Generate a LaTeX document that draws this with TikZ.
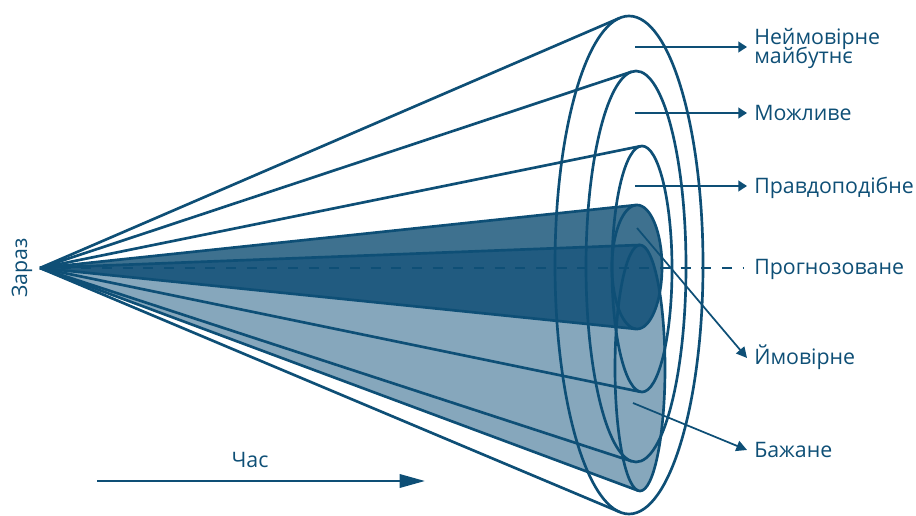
\documentclass[tikz,border=0pt]{standalone}
\usepackage{fontspec}
\setmainfont{Open Sans}
\usetikzlibrary{arrows.meta}
\definecolor{ln}{HTML}{0E4F76}
\definecolor{lite}{HTML}{86A7BC}
\definecolor{mid}{HTML}{3E718F}
\definecolor{dark}{HTML}{215B80}
% apex fixed at (40,268)
\newcommand\setcone[4]{%
  \pgfmathsetmacro\cpx{(40-#1)/#3}%
  \pgfmathsetmacro\cpy{(268-#2)/#4}%
  \pgfmathsetmacro\cdd{sqrt(\cpx*\cpx+\cpy*\cpy)}%
  \pgfmathsetmacro\cphi{atan2(\cpy,\cpx)}%
  \pgfmathsetmacro\cal{acos(1/\cdd)}%
  \pgfmathsetmacro\cA{\cphi+\cal}%
  \pgfmathsetmacro\cB{\cphi-\cal+360}%
}
% #1 command, #2 options, #3 cx, #4 cy, #5 rx, #6 ry
\newcommand\conecmd[6]{%
  \setcone{#3}{#4}{#5}{#6}%
  #1[#2] (apex) -- plot[domain=\cA:\cB,samples=90] ({#3+#5*cos(\x)},{#4+#6*sin(\x)}) -- cycle;}
% outline: #1 cx, #2 cy, #3 rx, #4 ry, #5 name
\newcommand\coneline[5]{%
  \setcone{#1}{#2}{#3}{#4}%
  \coordinate (#5-c) at (#1,#2);
  \coordinate (#5-a) at ({#1+#3*cos(\cA)},{#2+#4*sin(\cA)});
  \coordinate (#5-b) at ({#1+#3*cos(\cB)},{#2+#4*sin(\cB)});
  \draw[cl] (apex) -- (#5-a);
  \draw[cl] (apex) -- (#5-b);
  \draw[cl] (#5-c) ellipse [x radius=#3, y radius=#4];}
\begin{document}
\lineskiplimit=-20pt\relax
\begin{tikzpicture}[x=0.75pt,y=-0.75pt,line join=round,
  cl/.style={draw=ln,line width=2pt},
  lbl/.style={text=ln,font=\fontsize{16}{14.3}\selectfont,inner sep=0pt,anchor=base west,align=left},
  lar/.style={draw=ln,line width=1.5pt,-{Triangle[length=6.5pt,width=8pt]}},
  dar/.style={draw=ln,line width=1.3pt,-{Triangle[length=8pt,width=8pt]}}]
\useasboundingbox (0,0) rectangle (916,516);
\coordinate (apex) at (40,268);
% fills
\conecmd{\fill}{lite}{640}{368}{25}{123}
\conecmd{\fill}{mid}{637}{267}{25}{62}
\begin{scope}
  \conecmd{\clip}{}{640}{368}{25}{123}
  \conecmd{\fill}{dark}{637}{267}{25}{62}
\end{scope}
% outlines
\coneline{629}{265}{74}{249}{outer}
\coneline{636}{266.5}{50}{195.5}{mozh}
\coneline{642}{269}{30}{123}{prav}
\coneline{640}{368}{25}{123}{bazh}
\coneline{637}{267}{25}{62}{ymov}
% forecast dashed line
\coordinate (fe) at (743,268);
\draw[draw=ln,line width=2.1pt,dash pattern=on 7.5pt off 8pt] (apex) -- (fe);
% labels
\node[lbl] (l1) at (754,63.5) {Неймовірне\\майбутнє};
\node[lbl] (l2) at (754,120.5) {Можливе};
\node[lbl] (l3) at (754,193.5) {Правдоподібне};
\node[lbl] (l4) at (754,274.5) {Прогнозоване};
\node[lbl] (l5) at (754,364) {Ймовірне};
\node[lbl] (l6) at (754,457.5) {Бажане};
\coordinate (s1) at (635,47);  \coordinate (e1) at (747,47);
\coordinate (s2) at (635,113); \coordinate (e2) at (747,113);
\coordinate (s3) at (635,186); \coordinate (e3) at (747,186);
\coordinate (s5) at (637,228); \coordinate (e5) at (747,358);
\coordinate (s6) at (633,403); \coordinate (e6) at (747,450);
\draw[lar] (s1) -- (e1);
\draw[lar] (s2) -- (e2);
\draw[lar] (s3) -- (e3);
\draw[dar] (s5) -- (e5);
\draw[dar] (s6) -- (e6);
% time axis
\coordinate (t0) at (97,481); \coordinate (t1) at (425,481);
\draw[draw=ln,line width=1.8pt,-{Triangle[length=19pt,width=10pt]}] (t0) -- (t1);
\node[text=ln,font=\fontsize{16}{14}\selectfont,inner sep=0pt] (chas) at (250,460) {Час};
\node[text=ln,font=\fontsize{16}{14}\selectfont,inner sep=0pt,rotate=90] (zaraz) at (22,268) {Зараз};
\end{tikzpicture}
\end{document}
